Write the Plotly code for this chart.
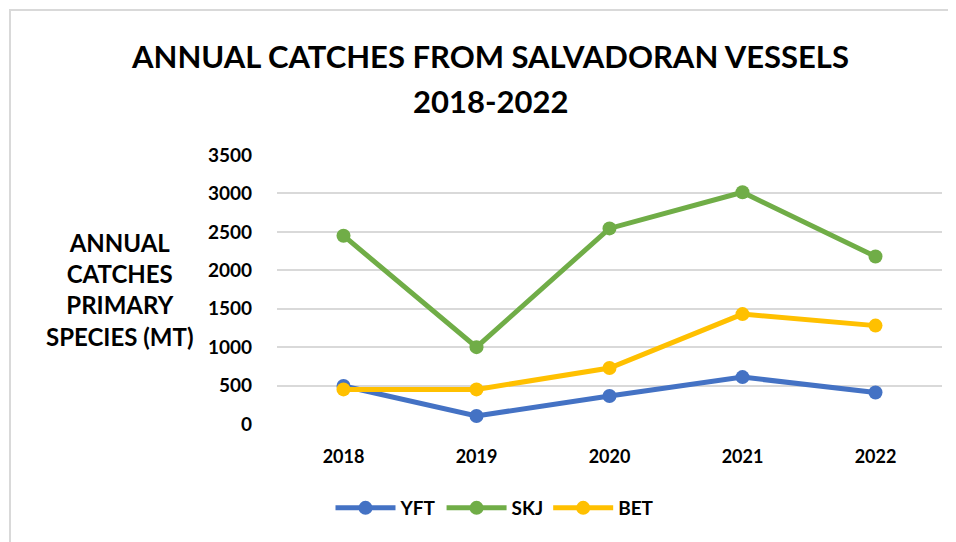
import plotly.graph_objects as go

years = ['2018', '2019', '2020', '2021', '2022']
yft = [495, 105, 365, 610, 410]
skj = [2450, 1000, 2545, 3015, 2180]
bet = [450, 450, 728, 1430, 1280]

series = [
    ('YFT', yft, '#4472C4'),
    ('SKJ', skj, '#70AD47'),
    ('BET', bet, '#FFC000'),
]

title_lines = ['ANNUAL CATCHES FROM SALVADORAN VESSELS', '2018-2022']

FONT = 'Lato'
# page body adds an 8px offset, so the figure is 948x534 drawn at (8, 8)
PL, PB, PW, PH = 277, 424, 665, 269  # plot area on the page

fig = go.Figure()
for name, vals, color in series:
    fig.add_trace(go.Scatter(
        x=years, y=vals, name=name, mode='lines+markers',
        line=dict(color=color, width=5),
        marker=dict(color=color, size=14),
    ))

fig.update_layout(
    width=948, height=534,
    margin=dict(l=269, r=14, t=147, b=118),
    paper_bgcolor='white', plot_bgcolor='white',
    font=dict(family=FONT, color='black', size=18, weight='bold'),
    showlegend=True,
    legend=dict(orientation='h', x=(495 - PL) / PW, xanchor='center', y=(PB - 508) / PH,
                yanchor='middle', font=dict(size=19, weight='bold'), itemwidth=60),
)
fig.update_xaxes(showgrid=False, showline=False, ticks='', range=[-0.5, 4.5],
                 ticklabelstandoff=20, tickfont=dict(size=18, weight='bold'))
fig.update_yaxes(range=[0, 3500], dtick=500, showgrid=True, gridcolor='#d9d9d9', gridwidth=2,
                 zeroline=False, showline=False, ticks='', ticklabelstandoff=24,
                 tickfont=dict(size=19, weight='bold'))

# title drawn as two lines to match the wide line spacing
for line, ypix in zip(title_lines, [56, 101]):
    fig.add_annotation(
        text=line, xref='paper', yref='paper', x=(490 - PL) / PW, y=(PB - ypix) / PH,
        xanchor='center', yanchor='middle', showarrow=False,
        font=dict(family=FONT, size=31, weight='bold', color='black'),
    )

fig.add_annotation(
    text='ANNUAL<br>CATCHES<br>PRIMARY<br>SPECIES (MT)',
    xref='paper', yref='paper', x=(120 - PL) / PW, y=(PB - 289.5) / PH,
    xanchor='center', yanchor='middle', showarrow=False, align='center',
    font=dict(family=FONT, size=24, weight='bold', color='black'),
)

fig.add_shape(type='rect', xref='paper', yref='paper',
              x0=(10 - PL) / PW, x1=1.2, y0=-0.8, y1=(PB - 10) / PH,
              line=dict(color='#d9d9d9', width=2), layer='below')

fig.write_html('out.html')
